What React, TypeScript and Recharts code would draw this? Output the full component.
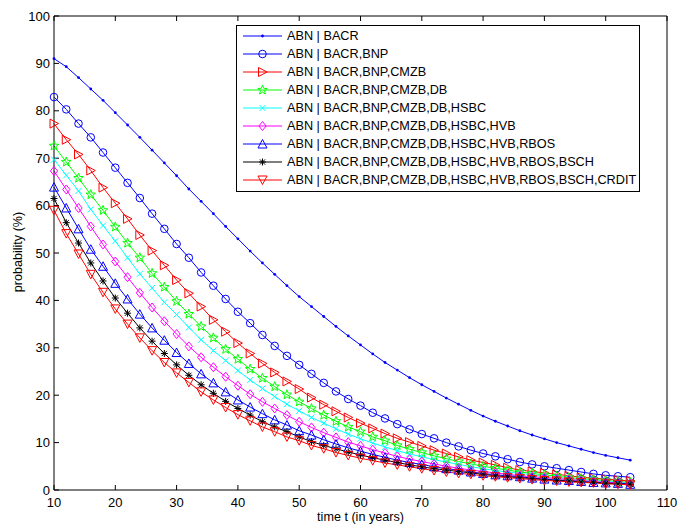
import React from 'react';
import { LineChart, Line, XAxis, YAxis } from 'recharts';

const years = [10, 12, 14, 16, 18, 20, 22, 24, 26, 28, 30, 32, 34, 36, 38, 40, 42, 44, 46, 48, 50, 52, 54, 56, 58, 60, 62, 64, 66, 68, 70, 72, 74, 76, 78, 80, 82, 84, 86, 88, 90, 92, 94, 96, 98, 100, 102, 104];

const s1 = [91.0, 89.3, 87.0, 84.6, 82.2, 79.6, 77.0, 74.4, 71.7, 69.0, 66.3, 63.5, 60.9, 58.3, 55.6, 53.0, 50.4, 47.9, 45.5, 43.1, 40.8, 38.7, 36.6, 34.5, 32.5, 30.6, 28.7, 26.9, 25.3, 23.7, 22.2, 20.8, 19.4, 18.1, 16.8, 15.6, 14.5, 13.5, 12.5, 11.6, 10.8, 10.0, 9.3, 8.6, 7.9, 7.3, 6.8, 6.3];
const s2 = [82.9, 80.3, 77.3, 74.4, 71.2, 68.0, 64.8, 61.6, 58.3, 55.1, 51.9, 49.0, 45.9, 43.1, 40.3, 37.6, 35.2, 32.7, 30.4, 28.3, 26.4, 24.5, 22.6, 20.8, 19.2, 17.8, 16.3, 15.1, 13.9, 12.8, 11.8, 10.9, 10.0, 9.2, 8.4, 7.7, 7.1, 6.5, 5.9, 5.4, 5.0, 4.6, 4.2, 3.8, 3.4, 3.1, 2.9, 2.7];
const s3 = [77.3, 73.9, 70.8, 67.4, 63.8, 60.5, 57.2, 53.8, 50.5, 47.4, 44.3, 41.5, 38.7, 35.9, 33.4, 31.0, 28.8, 26.7, 24.8, 22.9, 21.3, 19.5, 18.0, 16.6, 15.3, 14.1, 13.0, 11.9, 10.9, 10.1, 9.3, 8.4, 7.7, 7.0, 6.3, 5.8, 5.3, 4.7, 4.2, 3.9, 3.6, 3.3, 3.0, 2.7, 2.5, 2.3, 2.1, 1.9];
const s4 = [72.6, 69.2, 65.8, 62.3, 59.0, 55.5, 52.1, 49.0, 45.7, 42.8, 39.8, 37.1, 34.5, 32.1, 29.7, 27.6, 25.5, 23.6, 21.8, 20.1, 18.6, 17.2, 15.8, 14.5, 13.3, 12.3, 11.2, 10.4, 9.4, 8.6, 7.9, 7.2, 6.6, 6.0, 5.5, 5.0, 4.6, 4.2, 3.8, 3.5, 3.2, 2.9, 2.6, 2.4, 2.2, 2.0, 1.8, 1.6];
const s5 = [69.7, 66.4, 63.1, 59.2, 55.8, 52.5, 49.0, 45.6, 42.6, 39.6, 37.0, 34.3, 31.7, 29.4, 27.3, 25.2, 23.2, 21.4, 19.7, 18.1, 16.7, 15.3, 14.1, 12.9, 11.8, 10.8, 9.9, 9.1, 8.3, 7.6, 7.0, 6.4, 5.9, 5.4, 4.9, 4.5, 4.1, 3.8, 3.5, 3.2, 2.9, 2.6, 2.4, 2.2, 2.0, 1.8, 1.6, 1.5];
const s6 = [67.3, 63.4, 59.5, 55.6, 51.8, 48.2, 44.9, 41.6, 38.5, 35.6, 32.9, 30.3, 28.0, 25.9, 23.9, 22.0, 20.2, 18.6, 17.2, 15.8, 14.4, 13.2, 12.1, 11.1, 10.1, 9.3, 8.5, 7.8, 7.1, 6.5, 6.0, 5.5, 5.0, 4.6, 4.2, 3.9, 3.6, 3.3, 3.0, 2.8, 2.6, 2.4, 2.2, 2.0, 1.8, 1.6, 1.5, 1.3];
const s7 = [63.9, 59.5, 55.1, 50.8, 47.2, 43.6, 40.3, 37.1, 34.2, 31.6, 29.0, 26.7, 24.5, 22.6, 20.7, 19.0, 17.5, 16.1, 14.8, 13.7, 12.5, 11.6, 10.6, 9.7, 8.9, 8.2, 7.5, 6.9, 6.3, 5.8, 5.4, 4.9, 4.5, 4.2, 3.8, 3.5, 3.2, 3.0, 2.8, 2.5, 2.3, 2.1, 2.0, 1.8, 1.6, 1.5, 1.4, 1.2];
const s8 = [61.5, 56.4, 52.1, 47.9, 44.1, 40.5, 37.3, 34.2, 31.4, 28.8, 26.4, 24.2, 22.2, 20.4, 18.7, 17.2, 15.8, 14.4, 13.3, 12.3, 11.2, 10.2, 9.4, 8.7, 8.0, 7.4, 6.8, 6.3, 5.8, 5.3, 4.9, 4.5, 4.2, 3.9, 3.6, 3.3, 3.0, 2.8, 2.6, 2.4, 2.2, 2.0, 1.9, 1.7, 1.6, 1.4, 1.3, 1.2];
const s9 = [59.0, 54.1, 49.8, 45.5, 41.7, 38.2, 35.0, 32.1, 29.4, 26.9, 24.7, 22.7, 20.7, 19.0, 17.4, 15.9, 14.6, 13.3, 12.3, 11.2, 10.4, 9.4, 8.7, 7.9, 7.3, 6.7, 6.2, 5.7, 5.3, 4.9, 4.5, 4.1, 3.8, 3.5, 3.3, 3.0, 2.8, 2.6, 2.4, 2.2, 2.0, 1.9, 1.7, 1.6, 1.5, 1.3, 1.2, 1.1];

const seriesNames = [
  'ABN | BACR',
  'ABN | BACR,BNP',
  'ABN | BACR,BNP,CMZB',
  'ABN | BACR,BNP,CMZB,DB',
  'ABN | BACR,BNP,CMZB,DB,HSBC',
  'ABN | BACR,BNP,CMZB,DB,HSBC,HVB',
  'ABN | BACR,BNP,CMZB,DB,HSBC,HVB,RBOS',
  'ABN | BACR,BNP,CMZB,DB,HSBC,HVB,RBOS,BSCH',
  'ABN | BACR,BNP,CMZB,DB,HSBC,HVB,RBOS,BSCH,CRDIT',
];
const seriesColors = ['#0000ff', '#0000ff', '#ff0000', '#00ff00', '#00ffff', '#ff00ff', '#0000ff', '#000000', '#ff0000'];
const seriesShapes = ['point', 'circle', 'triangleRight', 'star', 'x', 'diamond', 'triangleUp', 'asterisk', 'triangleDown'];
const seriesValues = [s1, s2, s3, s4, s5, s6, s7, s8, s9];

const xTicks = [10, 20, 30, 40, 50, 60, 70, 80, 90, 100, 110];
const yTicks = [0, 10, 20, 30, 40, 50, 60, 70, 80, 90, 100];

const FONT = '"Liberation Sans", Arial, Helvetica, sans-serif';

const data = years.map((t, i) => {
  const row: Record<string, number> = { t };
  seriesValues.forEach((vals, k) => {
    row['s' + k] = vals[i];
  });
  return row;
});

function Marker({ shape, color, cx, cy }: { shape: string; color: string; cx: number; cy: number }) {
  const common = { fill: 'none', stroke: color, strokeWidth: 1 };
  switch (shape) {
    case 'point':
      return <circle cx={cx} cy={cy} r={1.4} fill={color} />;
    case 'circle':
      return <circle cx={cx} cy={cy} r={3.8} {...common} />;
    case 'triangleRight':
      return <polygon points={`${cx + 4.5},${cy} ${cx - 4},${cy - 4.5} ${cx - 4},${cy + 4.5}`} {...common} />;
    case 'triangleUp':
      return <polygon points={`${cx},${cy - 4.5} ${cx + 4.5},${cy + 4} ${cx - 4.5},${cy + 4}`} {...common} />;
    case 'triangleDown':
      return <polygon points={`${cx},${cy + 4.5} ${cx + 4.5},${cy - 4} ${cx - 4.5},${cy - 4}`} {...common} />;
    case 'diamond':
      return <polygon points={`${cx},${cy - 4.5} ${cx + 3.6},${cy} ${cx},${cy + 4.5} ${cx - 3.6},${cy}`} {...common} />;
    case 'star': {
      const pts: string[] = [];
      for (let i = 0; i < 10; i++) {
        const r = i % 2 === 0 ? 5 : 2.1;
        const a = -Math.PI / 2 + (i * Math.PI) / 5;
        pts.push(`${cx + r * Math.cos(a)},${cy + r * Math.sin(a)}`);
      }
      return <polygon points={pts.join(' ')} {...common} />;
    }
    case 'x':
      return (
        <path
          d={`M${cx - 3},${cy - 3}L${cx + 3},${cy + 3}M${cx + 3},${cy - 3}L${cx - 3},${cy + 3}`}
          {...common}
        />
      );
    case 'asterisk':
      return (
        <path
          d={`M${cx - 3.5},${cy}L${cx + 3.5},${cy}M${cx},${cy - 3.5}L${cx},${cy + 3.5}M${cx - 2.6},${cy - 2.6}L${cx + 2.6},${cy + 2.6}M${cx + 2.6},${cy - 2.6}L${cx - 2.6},${cy + 2.6}`}
          {...common}
        />
      );
    default:
      return null;
  }
}

const emptyFmt = () => '';

function LegendBox() {
  return (
    <div
      style={{
        position: 'absolute',
        left: 236,
        top: 25,
        width: 404,
        height: 167,
        boxSizing: 'border-box',
        border: '1px solid #000',
        background: '#fff',
        paddingTop: 1,
        fontFamily: FONT,
        fontSize: 12.7,
        color: '#000',
      }}
    >
      {seriesNames.map((name, k) => (
        <div key={name} style={{ position: 'relative', height: 18, display: 'flex', alignItems: 'center' }}>
          <svg width={50} height={18} style={{ display: 'block', flex: '0 0 auto' }}>
            <line x1={6} y1={9} x2={45} y2={9} stroke={seriesColors[k]} strokeWidth={1} />
            <Marker shape={seriesShapes[k]} color={seriesColors[k]} cx={25.5} cy={9} />
          </svg>
          <span style={{ whiteSpace: 'nowrap', lineHeight: '18px' }}>{name}</span>
        </div>
      ))}
    </div>
  );
}

export default function App() {
  const tickStyle = { fill: '#000', fontSize: 13, fontFamily: FONT };
  return (
    <div style={{ position: 'absolute', left: 0, top: 0, width: 680, height: 525, background: '#fff' }}>
      <LineChart width={680} height={525} data={data} margin={{ top: 15, right: 12, bottom: 0, left: 0 }}>
        <XAxis
          dataKey="t"
          type="number"
          domain={[10, 110]}
          ticks={xTicks}
          interval={0}
          height={35}
          tickSize={-5}
          tickMargin={13}
          axisLine={{ stroke: '#000', strokeWidth: 1 }}
          tickLine={{ stroke: '#000', strokeWidth: 1 }}
          tick={tickStyle}
          label={{
            content: () => (
              <text x={360.5} y={521} textAnchor="middle" fontSize={12.6} fontFamily={FONT} fill="#000">
                time t (in years)
              </text>
            ),
          }}
        />
        <XAxis
          xAxisId="top"
          orientation="top"
          dataKey="t"
          type="number"
          domain={[10, 110]}
          ticks={xTicks}
          interval={0}
          height={1}
          tickSize={-5}
          tickFormatter={emptyFmt}
          axisLine={{ stroke: '#000', strokeWidth: 1 }}
          tickLine={{ stroke: '#000', strokeWidth: 1 }}
        />
        <YAxis
          type="number"
          domain={[0, 100]}
          ticks={yTicks}
          interval={0}
          width={54}
          tickSize={-5}
          tickMargin={9}
          axisLine={{ stroke: '#000', strokeWidth: 1 }}
          tickLine={{ stroke: '#000', strokeWidth: 1 }}
          tick={tickStyle}
          label={{
            content: () => (
              <text
                x={18}
                y={252}
                transform="rotate(-90 18 252)"
                textAnchor="middle"
                dominantBaseline="central"
                fontSize={12.6}
                fontFamily={FONT}
                fill="#000"
              >
                probability (%)
              </text>
            ),
          }}
        />
        <YAxis
          yAxisId="right"
          orientation="right"
          type="number"
          domain={[0, 100]}
          ticks={yTicks}
          interval={0}
          width={1}
          tickSize={-5}
          tickFormatter={emptyFmt}
          axisLine={{ stroke: '#000', strokeWidth: 1 }}
          tickLine={{ stroke: '#000', strokeWidth: 1 }}
        />
        {seriesValues.map((_, k) => (
          <Line
            key={k}
            type="linear"
            dataKey={'s' + k}
            name={seriesNames[k]}
            stroke={seriesColors[k]}
            strokeWidth={1}
            isAnimationActive={false}
            activeDot={false}
            dot={(p: any) => (
              <Marker key={`m${k}-${p.index}`} shape={seriesShapes[k]} color={seriesColors[k]} cx={p.cx} cy={p.cy} />
            )}
          />
        ))}
      </LineChart>
      <LegendBox />
    </div>
  );
}
